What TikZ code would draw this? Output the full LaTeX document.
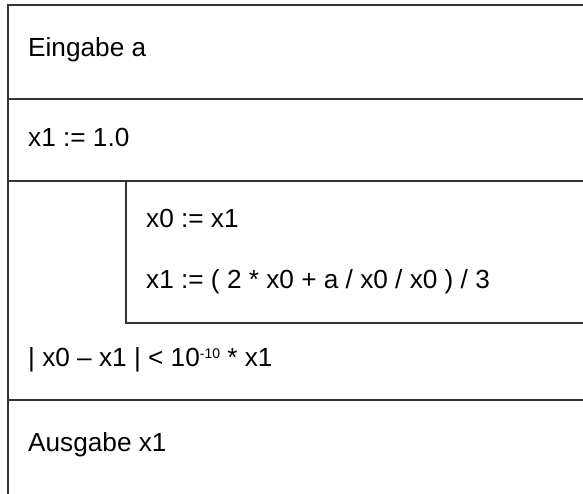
\documentclass[tikz,border=0pt]{standalone}
\usepackage{fontspec}
\setmainfont{Liberation Sans}
\newcommand\supsmall[1]{\raisebox{8pt}{\fontsize{14}{14}\selectfont #1}}
\tikzset{
  frame/.style={line width=2pt, draw=black!80, line cap=rect},
  lbl/.style={anchor=base west, inner sep=0pt, font=\fontsize{26.2}{31}\selectfont, text=black}
}
\begin{document}
\begin{tikzpicture}[x=1pt, y=-1pt]
\useasboundingbox (0,0) rectangle (583,493);
% structure lines
\coordinate (tl) at (8,5);
\coordinate (tr) at (583,5);
\coordinate (bl) at (8,493);
\coordinate (l1) at (8,99);   \coordinate (r1) at (583,99);
\coordinate (l2) at (8,181);  \coordinate (r2) at (583,181);
\coordinate (it) at (126,181);\coordinate (ib) at (126,323);
\coordinate (ir) at (583,323);
\coordinate (l3) at (8,400);  \coordinate (r3) at (583,400);
\draw[frame] (tr) -- (tl) -- (bl);
\draw[frame] (l1) -- (r1);
\draw[frame] (l2) -- (r2);
\draw[frame] (it) -- (ib) -- (ir);
\draw[frame] (l3) -- (r3);
% texts
\node[lbl] (t1) at (28,56) {Eingabe a};
\node[lbl] (t2) at (28,146.5) {x1 := 1.0};
\node[lbl] (t3) at (146,227) {x0 := x1};
\node[lbl] (t4) at (146,288) {x1 := ( 2 * x0 + a / x0 / x0 ) / 3};
\node[lbl] (t5) at (28,366) {| x0 – x1 | < 10\supsmall{-10} * x1};
\node[lbl] (t6) at (28,451) {Ausgabe x1};
\end{tikzpicture}
\end{document}
